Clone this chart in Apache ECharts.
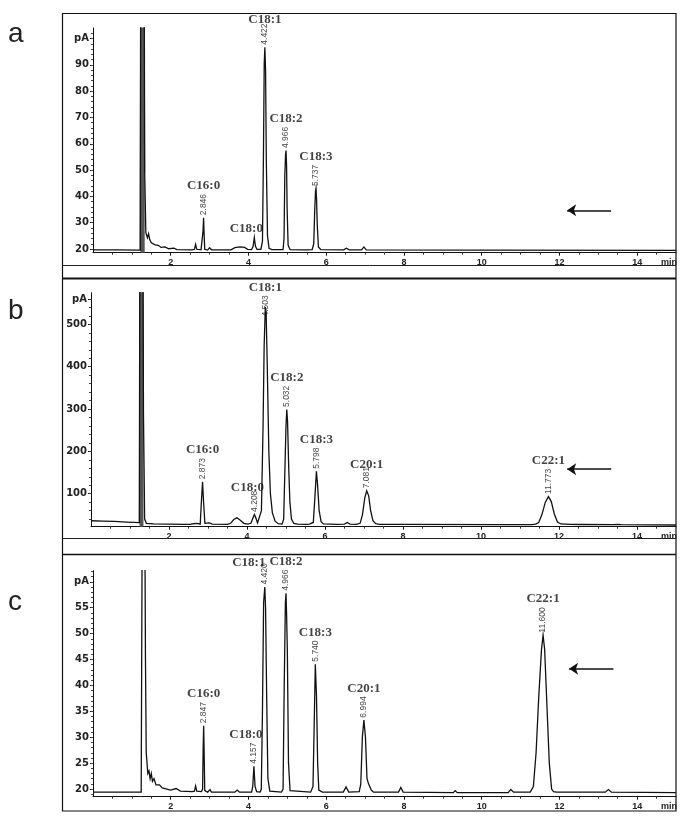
<!DOCTYPE html>
<html>
<head>
<meta charset="utf-8">
<script src="https://cdn.jsdelivr.net/npm/echarts@6/dist/echarts.min.js"></script>
<style>html,body{margin:0;padding:0;background:#fff}#chart{width:690px;height:824px}</style>
</head>
<body>
<div id="chart"></div>
<script>
// ---------- data (time in min, signal in pA) ----------
const xTickLabels = [2, 4, 6, 8, 10, 12, 14];
const panelLetters = ['a', 'b', 'c'];

const yTicksA = [20, 30, 40, 50, 60, 70, 80, 90, 100];
const yTicksB = [100, 200, 300, 400, 500, 560];
const yTicksC = [20, 25, 30, 35, 40, 45, 50, 55, 60];
const unitTickValue = [100, 560, 60]; // tick that carries the "pA" label

const traceA = [
  [0,19.7],[0.6,19.7],[1.215,19.6],
  [1.225,110],[1.32,110],[1.33,49],[1.345,49],[1.36,26.1],[1.40,24.3],[1.43,25.8],[1.46,23.6],[1.50,22.4],[1.55,23],[1.60,21.6],[1.68,21.4],[1.75,20.6],[1.85,20.8],[1.95,20.1],[2.08,20.3],[2.16,19.8],[2.55,19.7],
  [2.61,19.9],[2.64,21.8],[2.67,19.9],[2.78,19.7],
  [2.815,19.9],[2.832,27],[2.845,31.9],[2.858,26],[2.875,19.9],[2.95,19.6],
  [3.00,20.5],[3.05,19.7],[3.55,19.7],[3.65,20.5],[3.78,20.8],[3.90,20.6],[3.98,19.9],[4.08,19.8],
  [4.12,21],[4.15,24.3],[4.18,21],[4.22,19.9],[4.32,19.9],
  [4.36,23],[4.385,55],[4.405,90],[4.422,96.7],[4.44,88],[4.46,53],[4.49,25],[4.53,20.3],[4.60,19.8],[4.89,19.8],
  [4.915,24],[4.935,48],[4.955,56],[4.966,57.4],[4.98,52],[4.995,35],[5.02,21.5],[5.07,19.8],
  [5.40,19.7],[5.45,20.2],[5.50,19.7],[5.64,19.8],
  [5.68,22],[5.705,35],[5.725,42],[5.737,43],[5.752,39],[5.77,29],[5.80,20.8],[5.86,19.8],
  [6.45,19.7],[6.52,20.3],[6.59,19.7],[6.91,19.7],[6.97,20.8],[7.03,19.7],[10,19.6],[15,19.5]
];
const traceB = [
  [0,36],[0.3,35],[0.6,34.5],[0.9,33],[1.1,32],[1.24,31.5],
  [1.25,600],[1.335,600],[1.345,291],[1.36,291],[1.375,40],[1.42,30],[1.6,28.5],[2.0,28],[2.4,27.6],[2.55,27.5],
  [2.62,29],[2.66,27.5],[2.72,30],[2.76,27.5],
  [2.80,28],[2.83,80],[2.86,128],[2.89,75],[2.92,30],[2.96,28],
  [3.03,31],[3.07,32],[3.11,28],[3.5,27.5],
  [3.58,30],[3.66,39],[3.74,43],[3.82,38],[3.92,30],[4.02,28],
  [4.10,30],[4.15,42],[4.19,51],[4.23,42],[4.27,31],[4.32,30],
  [4.37,60],[4.41,250],[4.44,450],[4.47,541],[4.49,530],[4.52,400],[4.56,200],[4.60,100],[4.65,55],[4.72,35],[4.80,29],[4.90,28],
  [4.94,40],[4.97,150],[5.00,260],[5.02,299],[5.04,270],[5.07,160],[5.10,80],[5.14,40],[5.20,30],[5.30,28],
  [5.50,27.5],[5.60,28.2],[5.65,27.5],
  [5.70,32],[5.74,90],[5.78,153],[5.81,120],[5.85,60],[5.90,34],[5.96,28.5],[6.30,27.5],
  [6.50,28],[6.57,32],[6.64,28],[6.80,27.5],
  [6.90,30],[6.96,50],[7.02,90],[7.07,107],[7.12,95],[7.17,60],[7.23,36],[7.30,29],[7.40,27.5],
  [7.95,27.6],[8.00,29],[8.06,27.5],
  [10.5,27],[11.3,27],[11.40,28],
  [11.48,32],[11.56,50],[11.65,80],[11.73,93],[11.80,82],[11.88,52],[11.96,33],[12.05,28.5],[12.3,27.5],[12.6,27.2],
  [13.4,26.8],[13.5,27.6],[13.6,26.8],[15,26]
];
const traceC = [
  [0,19.4],[1.24,19.4],
  [1.25,19.5],[1.265,70],[1.335,70],[1.35,45],[1.37,27],[1.39,26.9],[1.41,23],[1.44,23.5],[1.47,22],[1.50,23],[1.53,21.5],[1.57,22],[1.62,20.8],[1.71,20.8],[1.78,20.2],[1.85,20.1],[2.0,19.8],[2.14,20.1],[2.25,19.6],[2.55,19.5],
  [2.61,19.6],[2.64,20.6],[2.67,19.6],[2.79,19.5],
  [2.82,20],[2.835,28],[2.847,32.2],[2.86,27],[2.875,19.7],[2.95,19.4],
  [3.01,19.9],[3.05,19.4],[3.65,19.4],[3.71,19.8],[3.77,19.4],[4.08,19.4],
  [4.11,20.5],[4.14,24.4],[4.17,20.5],[4.21,19.5],[4.30,19.4],
  [4.33,20],[4.36,35],[4.39,56],[4.42,59],[4.44,55],[4.47,37],[4.50,22],[4.55,19.6],[4.85,19.4],
  [4.89,20],[4.92,40],[4.95,56],[4.966,57.8],[4.98,54],[5.00,47],[5.03,25],[5.07,19.7],[5.60,19.4],
  [5.66,20.5],[5.69,32],[5.72,44.1],[5.75,38],[5.78,25],[5.81,19.8],[5.90,19.4],
  [6.44,19.4],[6.51,20.4],[6.58,19.4],[6.85,19.5],
  [6.89,21],[6.93,30],[6.97,33.3],[7.01,30],[7.05,22],[7.09,21],[7.12,21.1],[7.16,19.8],[7.22,19.4],
  [7.86,19.4],[7.92,20.3],[7.98,19.4],[9.27,19.3],[9.32,19.7],[9.37,19.3],[10.68,19.3],[10.75,19.9],[10.82,19.4],[11.25,19.4],
  [11.33,20.5],[11.40,27],[11.47,38],[11.54,47],[11.58,49.7],[11.62,47],[11.68,36],[11.74,25],[11.80,20],[11.85,19.5],[11.89,19.8],[11.93,19.4],
  [13.18,19.4],[13.26,19.9],[13.34,19.4],[15,19.3]
];

const peakNamesA = ['C16:0', 'C18:0', 'C18:1', 'C18:2', 'C18:3'];
const peakRtA = ['2.846', '', '4.422', '4.966', '5.737'];
const peakTimeA = [2.845, 4.15, 4.422, 4.966, 5.737];
const peakHeightA = [31.9, 24.3, 96.7, 57.4, 43];

const peakNamesB = ['C16:0', 'C18:0', 'C18:1', 'C18:2', 'C18:3', 'C20:1', 'C22:1'];
const peakRtB = ['2.873', '4.208', '4.503', '5.032', '5.798', '7.081', '11.773'];
const peakTimeB = [2.86, 4.19, 4.47, 5.02, 5.78, 7.07, 11.73];
const peakHeightB = [128, 51, 541, 299, 153, 107, 93];

const peakNamesC = ['C16:0', 'C18:0', 'C18:1', 'C18:2', 'C18:3', 'C20:1', 'C22:1'];
const peakRtC = ['2.847', '4.157', '4.420', '4.966', '5.740', '6.994', '11.600'];
const peakTimeC = [2.847, 4.14, 4.42, 4.966, 5.72, 6.97, 11.58];
const peakHeightC = [32.2, 24.4, 59, 57.8, 44.1, 33.3, 49.7];

// arrow annotations: [tail time, head time, level]
const arrowA = [13.33, 12.2, 34.7];
const arrowB = [13.34, 12.21, 158];
const arrowC = [13.39, 12.25, 43.2];

// ---------- layout / style ----------
const panels = [
  { key: 'a', trace: traceA, names: peakNamesA, rt: peakRtA, pt: peakTimeA, ph: peakHeightA, yTicks: yTicksA, unit: unitTickValue[0],
    grid: { left: 93, top: 28, width: 583, height: 224.7 }, ymin: 18.6, ymax: 104, minorStep: 2, solvent: [1.2, 1.335], arrow: arrowA },
  { key: 'b', trace: traceB, names: peakNamesB, rt: peakRtB, pt: peakTimeB, ph: peakHeightB, yTicks: yTicksB, unit: unitTickValue[1],
    grid: { left: 91, top: 292.7, width: 585, height: 234 }, ymin: 22, ymax: 574.8, minorStep: 20, solvent: [1.2, 1.35], arrow: arrowB },
  { key: 'c', trace: traceC, names: peakNamesC, rt: peakRtC, pt: peakTimeC, ph: peakHeightC, yTicks: yTicksC, unit: unitTickValue[2],
    grid: { left: 93, top: 570.7, width: 583, height: 226 }, ymin: 18.52, ymax: 62.15, minorStep: 1, solvent: null, arrow: arrowC }
];

const tweaks = {
  'a:C18:0': { nameDistance: 2, nameDx: -8 },
  'a:C18:1': { nameDistance: 21 },
  'b:C18:0': { nameDistance: 20, nameDx: -7 },
  'b:C18:1': { rtDistance: -10, nameDistance: 12 },
  'b:C20:1': { nameDistance: 19 },
  'c:C18:0': { nameDx: -8 },
  'c:C18:1': { nameDistance: 17, nameDx: -16 }
};

const ink = '#111';
const grids = [], xAxes = [], yAxes = [], series = [];

panels.forEach((p, i) => {
  grids.push(Object.assign({ outerBoundsMode: 'none', containLabel: false }, p.grid));

  xAxes.push({
    type: 'value', gridIndex: i, position: 'bottom', min: 0, max: 15,
    axisLine: { show: true, onZero: false, lineStyle: { color: ink, width: 1 } },
    axisTick: { show: true, customValues: xTickLabels, length: 3, lineStyle: { color: ink } },
    axisLabel: { customValues: xTickLabels.concat([14.82]), formatter: v => (v > 14.5 ? 'min' : String(v)),
      fontSize: 9, fontWeight: 'bold', color: '#222', margin: 5, fontFamily: 'Liberation Sans, Arial, sans-serif' },
    splitLine: { show: false }
  });
  const halves = [];
  for (let t = 0.5; t < 15; t += 0.5) if (t % 2 !== 0) halves.push(t);
  xAxes.push({
    type: 'value', gridIndex: i, position: 'bottom', min: 0, max: 15,
    axisLine: { show: false, onZero: false },
    axisTick: { show: true, customValues: halves, length: 2, lineStyle: { color: '#333' } },
    axisLabel: { show: false }, splitLine: { show: false }
  });

  yAxes.push({
    type: 'value', gridIndex: i, position: 'left', min: p.ymin, max: p.ymax,
    axisLine: { show: true, onZero: false, lineStyle: { color: ink, width: 1 } },
    axisTick: { show: true, customValues: p.yTicks, length: 3, lineStyle: { color: ink } },
    axisLabel: { customValues: p.yTicks, formatter: v => (v === p.unit ? 'pA' : String(v)),
      fontSize: 10, fontWeight: 'bold', color: '#222', margin: 4, fontFamily: 'DejaVu Sans, sans-serif' },
    splitLine: { show: false }
  });
  const minor = [];
  for (let v = Math.ceil(p.ymin / p.minorStep) * p.minorStep; v < p.ymax; v += p.minorStep) minor.push(v);
  yAxes.push({
    type: 'value', gridIndex: i, position: 'left', min: p.ymin, max: p.ymax,
    axisLine: { show: false, onZero: false },
    axisTick: { show: true, customValues: minor, length: 2, lineStyle: { color: '#444' } },
    axisLabel: { show: false }, splitLine: { show: false }
  });

  const xi = 2 * i, yi = 2 * i;

  if (p.solvent) {
    series.push({
      type: 'line', xAxisIndex: xi, yAxisIndex: yi, silent: true, z: 1,
      data: p.trace.filter(d => d[0] >= p.solvent[0] && d[0] <= p.solvent[1]),
      showSymbol: false, symbol: 'none', lineStyle: { width: 1, color: '#555' },
      areaStyle: { color: '#555', origin: 'start', opacity: 1 }
    });
  }

  series.push({
    type: 'line', xAxisIndex: xi, yAxisIndex: yi, silent: true, z: 3,
    data: p.trace, showSymbol: false, symbol: 'none',
    lineStyle: { color: ink, width: 1.3, join: 'miter' },
    markLine: {
      silent: true, symbol: ['none', 'arrow'], symbolSize: 9, animation: false,
      lineStyle: { color: ink, width: 1.5, type: 'solid' }, label: { show: false },
      data: [[{ coord: [p.arrow[0], p.arrow[2]] }, { coord: [p.arrow[1], p.arrow[2]] }]]
    }
  });

  const rtData = [], nameData = [];
  p.names.forEach((n, k) => {
    const tw = tweaks[p.key + ':' + n] || {};
    const pt = [p.pt[k], p.ph[k]];
    const rt = p.rt[k];
    if (rt) rtData.push({ value: pt, label: { formatter: rt, distance: tw.rtDistance != null ? tw.rtDistance : 2 } });
    const nd = tw.nameDistance != null ? tw.nameDistance : (rt ? 4 + rt.length * 4.2 : 3);
    nameData.push({ value: pt, label: { formatter: n, distance: nd, offset: [tw.nameDx || 0, 0] } });
  });

  series.push({
    type: 'scatter', xAxisIndex: xi, yAxisIndex: yi, silent: true, z: 5, clip: false,
    symbolSize: 1, itemStyle: { color: 'rgba(0,0,0,0)' }, data: rtData,
    label: { show: true, position: 'top', rotate: 90, align: 'left', verticalAlign: 'middle',
      fontSize: 8.5, color: '#111', fontFamily: 'Liberation Sans, Arial, sans-serif' }
  });
  series.push({
    type: 'scatter', xAxisIndex: xi, yAxisIndex: yi, silent: true, z: 6, clip: false,
    symbolSize: 1, itemStyle: { color: 'rgba(0,0,0,0)' }, data: nameData,
    label: { show: true, position: 'top', fontSize: 13, fontWeight: 'bold', color: ink,
      fontFamily: 'Liberation Serif, Times New Roman, serif' }
  });
});

const frame = [
  { type: 'rect', shape: { x: 62.5, y: 13.5, width: 613.5, height: 797.5 }, style: { fill: 'none', stroke: ink, lineWidth: 1.2 } },
  { type: 'line', shape: { x1: 63, y1: 265.5, x2: 676, y2: 265.5 }, style: { stroke: '#222', lineWidth: 1 } },
  { type: 'line', shape: { x1: 63, y1: 278.5, x2: 676, y2: 278.5 }, style: { stroke: ink, lineWidth: 2 } },
  { type: 'line', shape: { x1: 63, y1: 538.5, x2: 676, y2: 538.5 }, style: { stroke: '#222', lineWidth: 1 } },
  { type: 'line', shape: { x1: 63, y1: 554.5, x2: 676, y2: 554.5 }, style: { stroke: ink, lineWidth: 1.3 } }
];
const letterY = [37, 314, 605];
panelLetters.forEach((l, i) => {
  frame.push({ type: 'text', left: 8, top: letterY[i] - 17,
    style: { text: l, fontSize: 28, fontFamily: 'Liberation Sans, Arial, sans-serif', fill: '#222' } });
});

const chart = echarts.init(document.getElementById('chart'), null, { renderer: 'canvas' });
chart.setOption({
  animation: false,
  backgroundColor: '#fff',
  grid: grids,
  xAxis: xAxes,
  yAxis: yAxes,
  series: series,
  graphic: frame
});
</script>
</body>
</html>
